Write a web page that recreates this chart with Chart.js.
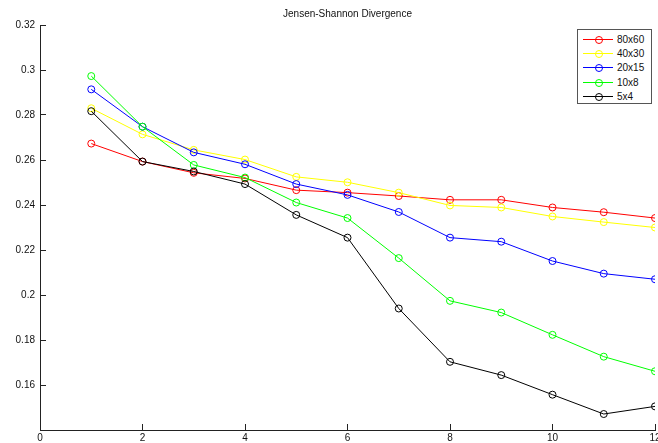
<!DOCTYPE html>
<html>
<head>
<meta charset="utf-8">
<script src="https://cdn.jsdelivr.net/npm/chart.js@4/dist/chart.umd.min.js"></script>
<style>
  html, body { margin: 0; padding: 0; background: #fff; }
  #wrap { position: relative; width: 658px; height: 443px; overflow: hidden; }
  #legend {
    position: absolute; left: 577px; top: 29px; width: 73px; height: 73px;
    border: 1px solid #555; background: #fff;
    font: 10px "Liberation Sans", Arial, sans-serif; color: #111;
  }
  .item { position: absolute; left: 0; height: 14px; width: 73px; }
  .item .ln { position: absolute; left: 5px; top: 6px; width: 30px; height: 1px; }
  .item .mk { position: absolute; left: 17px; top: 3px; width: 6px; height: 6px; border: 1px solid; border-radius: 50%; }
  .item .tx { position: absolute; left: 39px; top: 0px; line-height: 13px; }
</style>
</head>
<body>
<div id="wrap">
  <canvas id="grafico"></canvas>
  <div id="legend"></div>
</div>
<script>
// Datos
const xValues = [1, 2, 3, 4, 5, 6, 7, 8, 9, 10, 11, 12];
const seriesLabels = ['80x60', '40x30', '20x15', '10x8', '5x4'];
const seriesColors = ['#ff0000', '#ffff00', '#0000ff', '#00ff00', '#000000'];

const s80x60 = [0.2673, 0.2593, 0.2543, 0.2518, 0.2466, 0.2455, 0.2440, 0.2423, 0.2423, 0.2389, 0.2368, 0.2342];
const s40x30 = [0.2830, 0.2714, 0.2645, 0.2602, 0.2525, 0.2501, 0.2455, 0.2398, 0.2389, 0.2349, 0.2324, 0.2300];
const s20x15 = [0.2914, 0.2748, 0.2634, 0.2581, 0.2493, 0.2445, 0.2369, 0.2255, 0.2237, 0.2151, 0.2095, 0.2070];
const s10x8  = [0.2973, 0.2748, 0.2578, 0.2522, 0.2411, 0.2342, 0.2164, 0.1974, 0.1922, 0.1823, 0.1726, 0.1661];
const s5x4   = [0.2817, 0.2593, 0.2549, 0.2493, 0.2356, 0.2255, 0.1940, 0.1703, 0.1644, 0.1557, 0.1471, 0.1505];
const seriesData = [s80x60, s40x30, s20x15, s10x8, s5x4];

const xTicks = [0, 2, 4, 6, 8, 10, 12];
const yTicks = [0.16, 0.18, 0.2, 0.22, 0.24, 0.26, 0.28, 0.3, 0.32];

const fontFamily = '"Liberation Sans", Arial, sans-serif';

// Construir los datasets
const datasets = seriesData.map((values, i) => ({
  label: seriesLabels[i],
  data: values.map((v, j) => ({ x: xValues[j], y: v })),
  borderColor: seriesColors[i],
  backgroundColor: 'transparent',
  borderWidth: 1,
  pointRadius: 3.5,
  pointBorderWidth: 1,
  pointBackgroundColor: 'transparent',
  pointBorderColor: seriesColors[i],
  tension: 0,
  order: seriesData.length - i
}));

const ctx = document.getElementById('grafico');
new Chart(ctx, {
  type: 'line',
  data: { datasets },
  options: {
    responsive: true,
    maintainAspectRatio: false,
    animation: false,
    layout: { padding: { left: 0, right: 3, top: 0, bottom: 0 }, autoPadding: false },
    plugins: {
      legend: { display: false },
      tooltip: { enabled: false },
      title: {
        display: true,
        text: 'Jensen-Shannon Divergence',
        fullSize: false,
        color: '#111',
        font: { family: fontFamily, size: 10, weight: 'normal' },
        padding: { top: 8, bottom: 5 }
      }
    },
    scales: {
      x: {
        type: 'linear',
        min: 0,
        max: 12,
        afterBuildTicks: s => { s.ticks = xTicks.map(v => ({ value: v })); },
        afterFit: s => { s.height = 13; s.paddingLeft = 0; s.paddingRight = 0; },
        grid: { drawOnChartArea: false, drawTicks: true, tickLength: -6, color: '#222' },
        border: { display: true, color: '#222', width: 1 },
        ticks: {
          color: '#111', padding: 8, maxRotation: 0, autoSkip: false,
          font: { family: fontFamily, size: 10 },
          callback: v => String(v)
        }
      },
      y: {
        type: 'linear',
        min: 0.14,
        max: 0.32,
        afterBuildTicks: s => { s.ticks = yTicks.map(v => ({ value: v })); },
        afterFit: s => { s.width = 40; s.paddingTop = 0; s.paddingBottom = 0; },
        grid: { drawOnChartArea: false, drawTicks: true, tickLength: -6, color: '#222' },
        border: { display: true, color: '#222', width: 1 },
        ticks: {
          color: '#111', padding: 11, autoSkip: false,
          font: { family: fontFamily, size: 10 },
          callback: v => String(Math.round(v * 100) / 100)
        }
      }
    }
  }
});

// Leyenda en HTML (como la de MATLAB)
const legendBox = document.getElementById('legend');
seriesLabels.forEach((label, i) => {
  const item = document.createElement('div');
  item.className = 'item';
  item.style.top = (3 + i * 14.2) + 'px';
  item.innerHTML = '<span class="ln" style="background:' + seriesColors[i] + '"></span>' +
    '<span class="mk" style="border-color:' + seriesColors[i] + '"></span>' +
    '<span class="tx">' + label + '</span>';
  legendBox.appendChild(item);
});
</script>
</body>
</html>
